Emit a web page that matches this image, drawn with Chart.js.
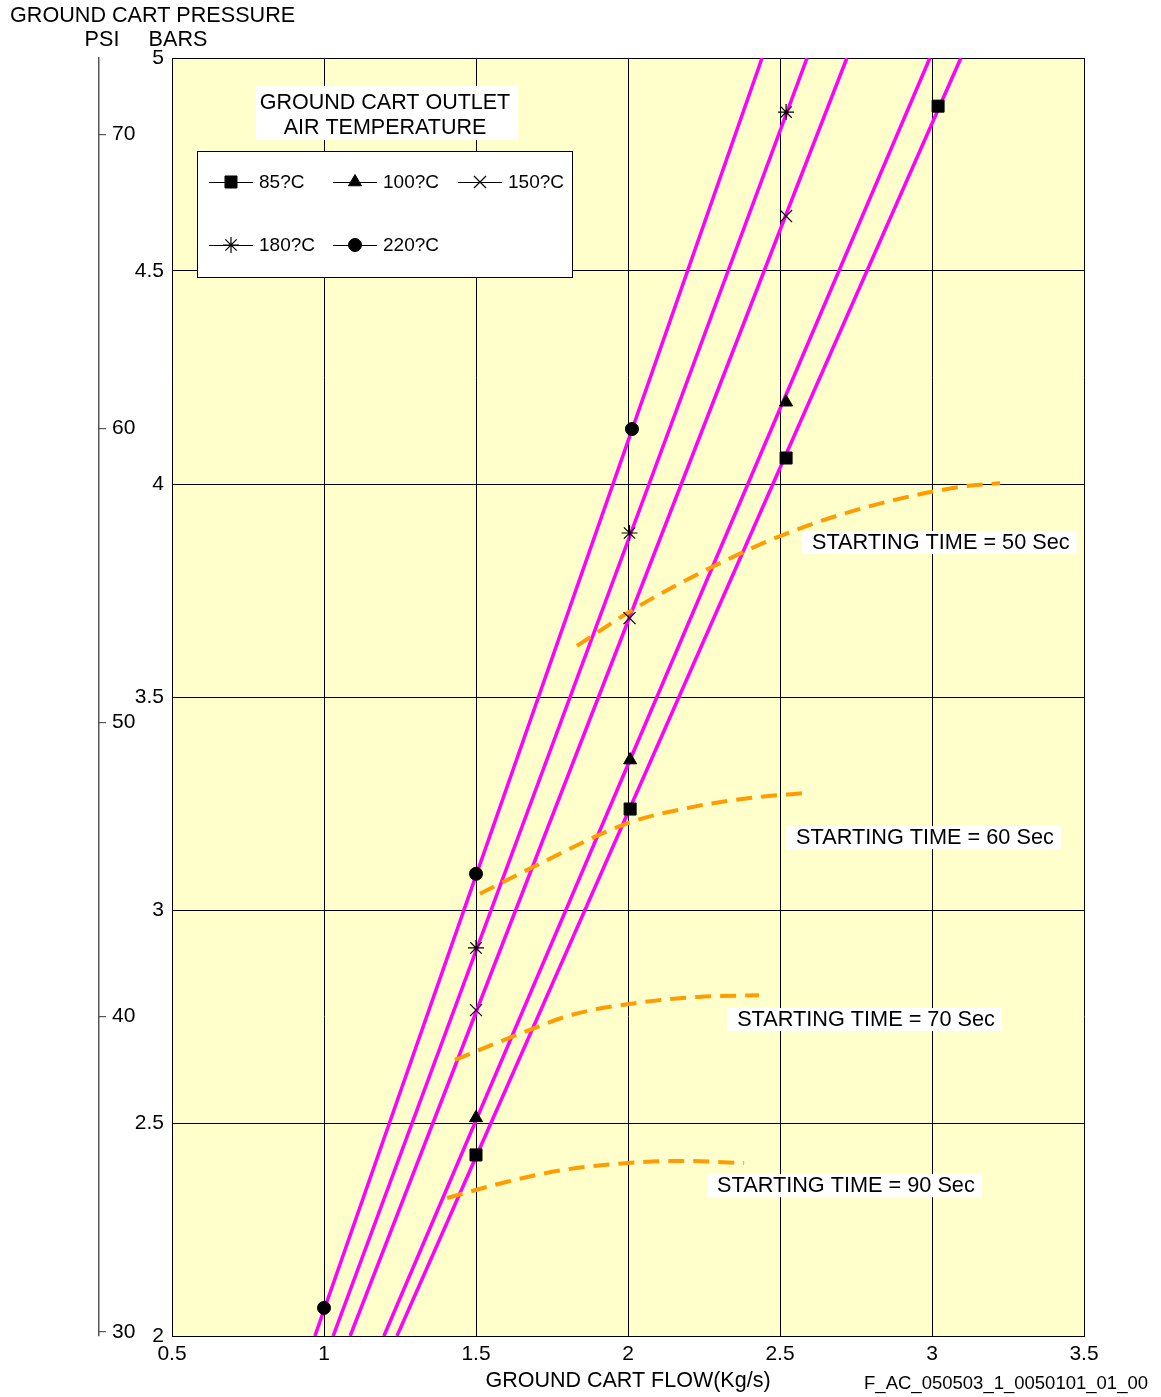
<!DOCTYPE html>
<html>
<head>
<meta charset="utf-8">
<title>Ground cart pressure vs flow</title>
<script src="https://cdn.jsdelivr.net/npm/chart.js@4.4.1/dist/chart.umd.min.js"></script>
<style>
    html, body { margin: 0; padding: 0; background: #fff; }
    #wrap { position: relative; width: 1161px; height: 1397px; }
</style>
</head>
<body>
<div id="wrap"><canvas id="cartChart"></canvas></div>
<script>
// --- axis ticks ---
const flowTicks = [0.5, 1, 1.5, 2, 2.5, 3, 3.5];
const barTicks = [2, 2.5, 3, 3.5, 4, 4.5, 5];
const psiLabels = ['30', '40', '50', '60', '70'];
const psiTickBars = [2.01, 2.75, 3.44, 4.13, 4.82]; // where each psi mark sits on the bar scale

// --- temperature lines (flow at 2 bar and at 5 bar) ---
const temps = ['85?C', '100?C', '150?C', '180?C', '220?C'];
const lineFlowAt2 = [1.240, 1.197, 1.086, 1.030, 0.970];
const lineFlowAt5 = [3.095, 2.993, 2.720, 2.589, 2.441];

// --- measured points ---
const flow85 = [1.5, 2.007, 2.52, 3.02];
const bars85 = [2.425, 3.237, 4.061, 4.887];
const flow100 = [1.5, 2.007, 2.52];
const bars100 = [2.512, 3.352, 4.192];
const flow150 = [1.5, 2.005, 2.52];
const bars150 = [2.765, 3.685, 4.629];
const flow180 = [1.5, 2.005, 2.52];
const bars180 = [2.911, 3.885, 4.873];
const flow220 = [1.0, 1.5, 2.013];
const bars220 = [2.066, 3.085, 4.129];

// --- starting time curves ---
const startTimes = ['50', '60', '70', '90'];
const st50Flow = [1.832, 2.030, 2.276, 2.533, 2.796, 3.092, 3.224];
const st50Bars = [3.620, 3.711, 3.805, 3.887, 3.948, 3.993, 4.002];
const st60Flow = [1.513, 1.688, 2.0, 2.214, 2.401, 2.589];
const st60Bars = [3.038, 3.101, 3.204, 3.242, 3.263, 3.275];
const st70Flow = [1.431, 1.618, 1.816, 2.0, 2.230, 2.431];
const st70Bars = [2.648, 2.702, 2.754, 2.779, 2.796, 2.800];
const st90Flow = [1.405, 1.602, 1.789, 2.0, 2.168, 2.382];
const st90Bars = [2.324, 2.362, 2.390, 2.406, 2.411, 2.406];

const FONT = "'Liberation Sans', Arial, Helvetica, sans-serif";
Chart.defaults.font.family = FONT;
Chart.defaults.font.size = 21;
Chart.defaults.color = '#000';

const zip = (xs, ys) => xs.map((x, i) => ({ x: x, y: ys[i] }));

const markerStyles = [
    { pointStyle: 'rect', radius: 8.5, borderWidth: 1 },
    { pointStyle: 'triangle', radius: 7.5, borderWidth: 1 },
    { pointStyle: 'crossRot', radius: 8.5, borderWidth: 1.2 },
    { pointStyle: 'star', radius: 8, borderWidth: 1.2 },
    { pointStyle: 'circle', radius: 6.5, borderWidth: 1 }
];
const markerData = [
    zip(flow85, bars85), zip(flow100, bars100), zip(flow150, bars150),
    zip(flow180, bars180), zip(flow220, bars220)
];
const curveData = [
    zip(st50Flow, st50Bars), zip(st60Flow, st60Bars),
    zip(st70Flow, st70Bars), zip(st90Flow, st90Bars)
];

const datasets = [];
// markers on top
temps.forEach((t, i) => {
    const m = markerStyles[i];
    datasets.push({
        type: 'scatter',
        label: t,
        data: markerData[i],
        order: 0,
        showLine: false,
        pointStyle: m.pointStyle,
        pointRadius: m.radius,
        pointBorderWidth: m.borderWidth,
        pointBackgroundColor: '#000',
        pointBorderColor: '#000'
    });
});
// orange dashed starting time curves
curveData.forEach((d, i) => {
    datasets.push({
        type: 'line',
        label: 'STARTING TIME = ' + startTimes[i] + ' Sec',
        data: d,
        order: 1,
        borderColor: '#FF9C00',
        borderWidth: 4,
        borderDash: [16, 9],
        pointRadius: 0,
        cubicInterpolationMode: 'monotone',
        fill: false
    });
});
// magenta temperature lines
temps.forEach((t, i) => {
    datasets.push({
        type: 'line',
        label: t + ' line',
        data: [{ x: lineFlowAt2[i], y: 2 }, { x: lineFlowAt5[i], y: 5 }],
        order: 2,
        borderColor: '#FF00FF',
        borderWidth: 3.5,
        pointRadius: 0,
        fill: false
    });
});

// labels for the starting time curves (text left edge, centre line)
const stLabelAt = [
    { x: 2.605, y: 3.864 },
    { x: 2.553, y: 3.171 },
    { x: 2.359, y: 2.744 },
    { x: 2.293, y: 2.354 }
];

const plotBg = {
    id: 'plotBg',
    beforeDraw(chart) {
        const { ctx, chartArea: a } = chart;
        ctx.save();
        ctx.fillStyle = '#fff';
        ctx.fillRect(0, 0, chart.width, chart.height);
        ctx.fillStyle = '#FFFFCC';
        ctx.fillRect(a.left, a.top, a.width, a.height);
        ctx.restore();
    }
};

function drawMarker(ctx, style, x, y) {
    ctx.fillStyle = '#000';
    ctx.strokeStyle = '#000';
    ctx.lineWidth = style.borderWidth;
    if (Chart.helpers && Chart.helpers.drawPoint) {
        Chart.helpers.drawPoint(ctx, {
            pointStyle: style.pointStyle,
            radius: style.radius,
            rotation: 0,
            borderWidth: style.borderWidth
        }, x, y);
    }
}

const overlay = {
    id: 'overlay',
    afterDraw(chart) {
        const { ctx, chartArea: a } = chart;
        const xs = chart.scales.x, ys = chart.scales.y;
        ctx.save();
        ctx.textBaseline = 'middle';
        ctx.fillStyle = '#000';

        // header texts
        ctx.font = '21.6px ' + FONT;
        ctx.textAlign = 'left';
        ctx.fillText('GROUND CART PRESSURE', 10, 16);
        ctx.textAlign = 'center';
        ctx.fillText('PSI', 102, 40);
        ctx.fillText('BARS', 178, 40);

        // footer
        ctx.font = '18.5px ' + FONT;
        ctx.textAlign = 'right';
        ctx.fillText('F_AC_050503_1_0050101_01_00', 1148, 1384);

        // legend title
        const L = a.left, T = a.top;
        ctx.fillStyle = '#fff';
        ctx.fillRect(L + 84, T + 28, 262, 54);
        ctx.fillStyle = '#000';
        ctx.font = '21.5px ' + FONT;
        ctx.textAlign = 'center';
        ctx.fillText('GROUND CART OUTLET', L + 213, T + 45);
        ctx.fillText('AIR TEMPERATURE', L + 213, T + 70);

        // legend box
        ctx.fillStyle = '#fff';
        ctx.fillRect(L + 25, T + 93, 375, 126);
        ctx.strokeStyle = '#000';
        ctx.lineWidth = 1;
        ctx.strokeRect(L + 25.5, T + 93.5, 375, 126);

        const cols = [L + 37, L + 161, L + 286];
        const rows = [T + 124, T + 187];
        ctx.font = '19px ' + FONT;
        temps.forEach((t, i) => {
            const cx = cols[i % 3], cy = rows[Math.floor(i / 3)];
            ctx.strokeStyle = '#000';
            ctx.lineWidth = 1;
            ctx.beginPath();
            ctx.moveTo(cx, cy + 0.5);
            ctx.lineTo(cx + 44, cy + 0.5);
            ctx.stroke();
            drawMarker(ctx, markerStyles[i], cx + 22, cy);
            ctx.fillStyle = '#000';
            ctx.textAlign = 'left';
            ctx.fillText(t, cx + 50, cy + 1);
        });

        // starting time labels
        ctx.font = '21.7px ' + FONT;
        startTimes.forEach((s, i) => {
            const txt = 'STARTING TIME = ' + s + ' Sec';
            const px = xs.getPixelForValue(stLabelAt[i].x);
            const py = ys.getPixelForValue(stLabelAt[i].y);
            const w = ctx.measureText(txt).width;
            ctx.fillStyle = '#fff';
            ctx.fillRect(px - 10, py - 11, w + 17, 23);
            ctx.fillStyle = '#000';
            ctx.textAlign = 'left';
            ctx.fillText(txt, px, py + 1);
        });
        ctx.restore();
    }
};

new Chart(document.getElementById('cartChart'), {
    data: { datasets: datasets },
    plugins: [plotBg, overlay],
    options: {
        responsive: true,
        maintainAspectRatio: false,
        animation: false,
        devicePixelRatio: 1,
        layout: { padding: { top: 58, right: 77, left: 0, bottom: 0 } },
        plugins: {
            legend: { display: false },
            tooltip: { enabled: false }
        },
        scales: {
            x: {
                type: 'linear',
                min: 0.5,
                max: 3.5,
                afterBuildTicks: s => { s.ticks = flowTicks.map(v => ({ value: v })); },
                afterFit: s => { s.height = 61; },
                ticks: {
                    autoSkip: false,
                    maxRotation: 0,
                    padding: 6,
                    callback: v => String(v)
                },
                grid: { color: '#000', lineWidth: 1, drawTicks: false },
                border: { color: '#000', width: 1 },
                title: {
                    display: true,
                    text: 'GROUND CART FLOW(Kg/s)',
                    font: { size: 21.5 },
                    padding: { top: 0, bottom: 3 }
                }
            },
            y: {
                type: 'linear',
                position: 'left',
                weight: 0,
                min: 2,
                max: 5,
                afterBuildTicks: s => { s.ticks = barTicks.map(v => ({ value: v })); },
                afterFit: s => { s.width = 73; },
                ticks: { padding: 8, callback: v => String(v) },
                grid: { color: '#000', lineWidth: 1, drawTicks: false },
                border: { color: '#000', width: 1 }
            },
            psi: {
                type: 'linear',
                position: 'left',
                weight: 1,
                min: 2,
                max: 5,
                afterBuildTicks: s => { s.ticks = psiTickBars.map(v => ({ value: v })); },
                afterFit: s => { s.width = 99; },
                ticks: {
                    mirror: true,
                    padding: 13,
                    callback: (v, i) => psiLabels[i]
                },
                grid: { drawOnChartArea: false, drawTicks: true, tickLength: -7, color: '#555', lineWidth: 1.2 },
                border: { display: true, color: '#555', width: 1.5 }
            }
        }
    }
});
</script>
</body>
</html>
